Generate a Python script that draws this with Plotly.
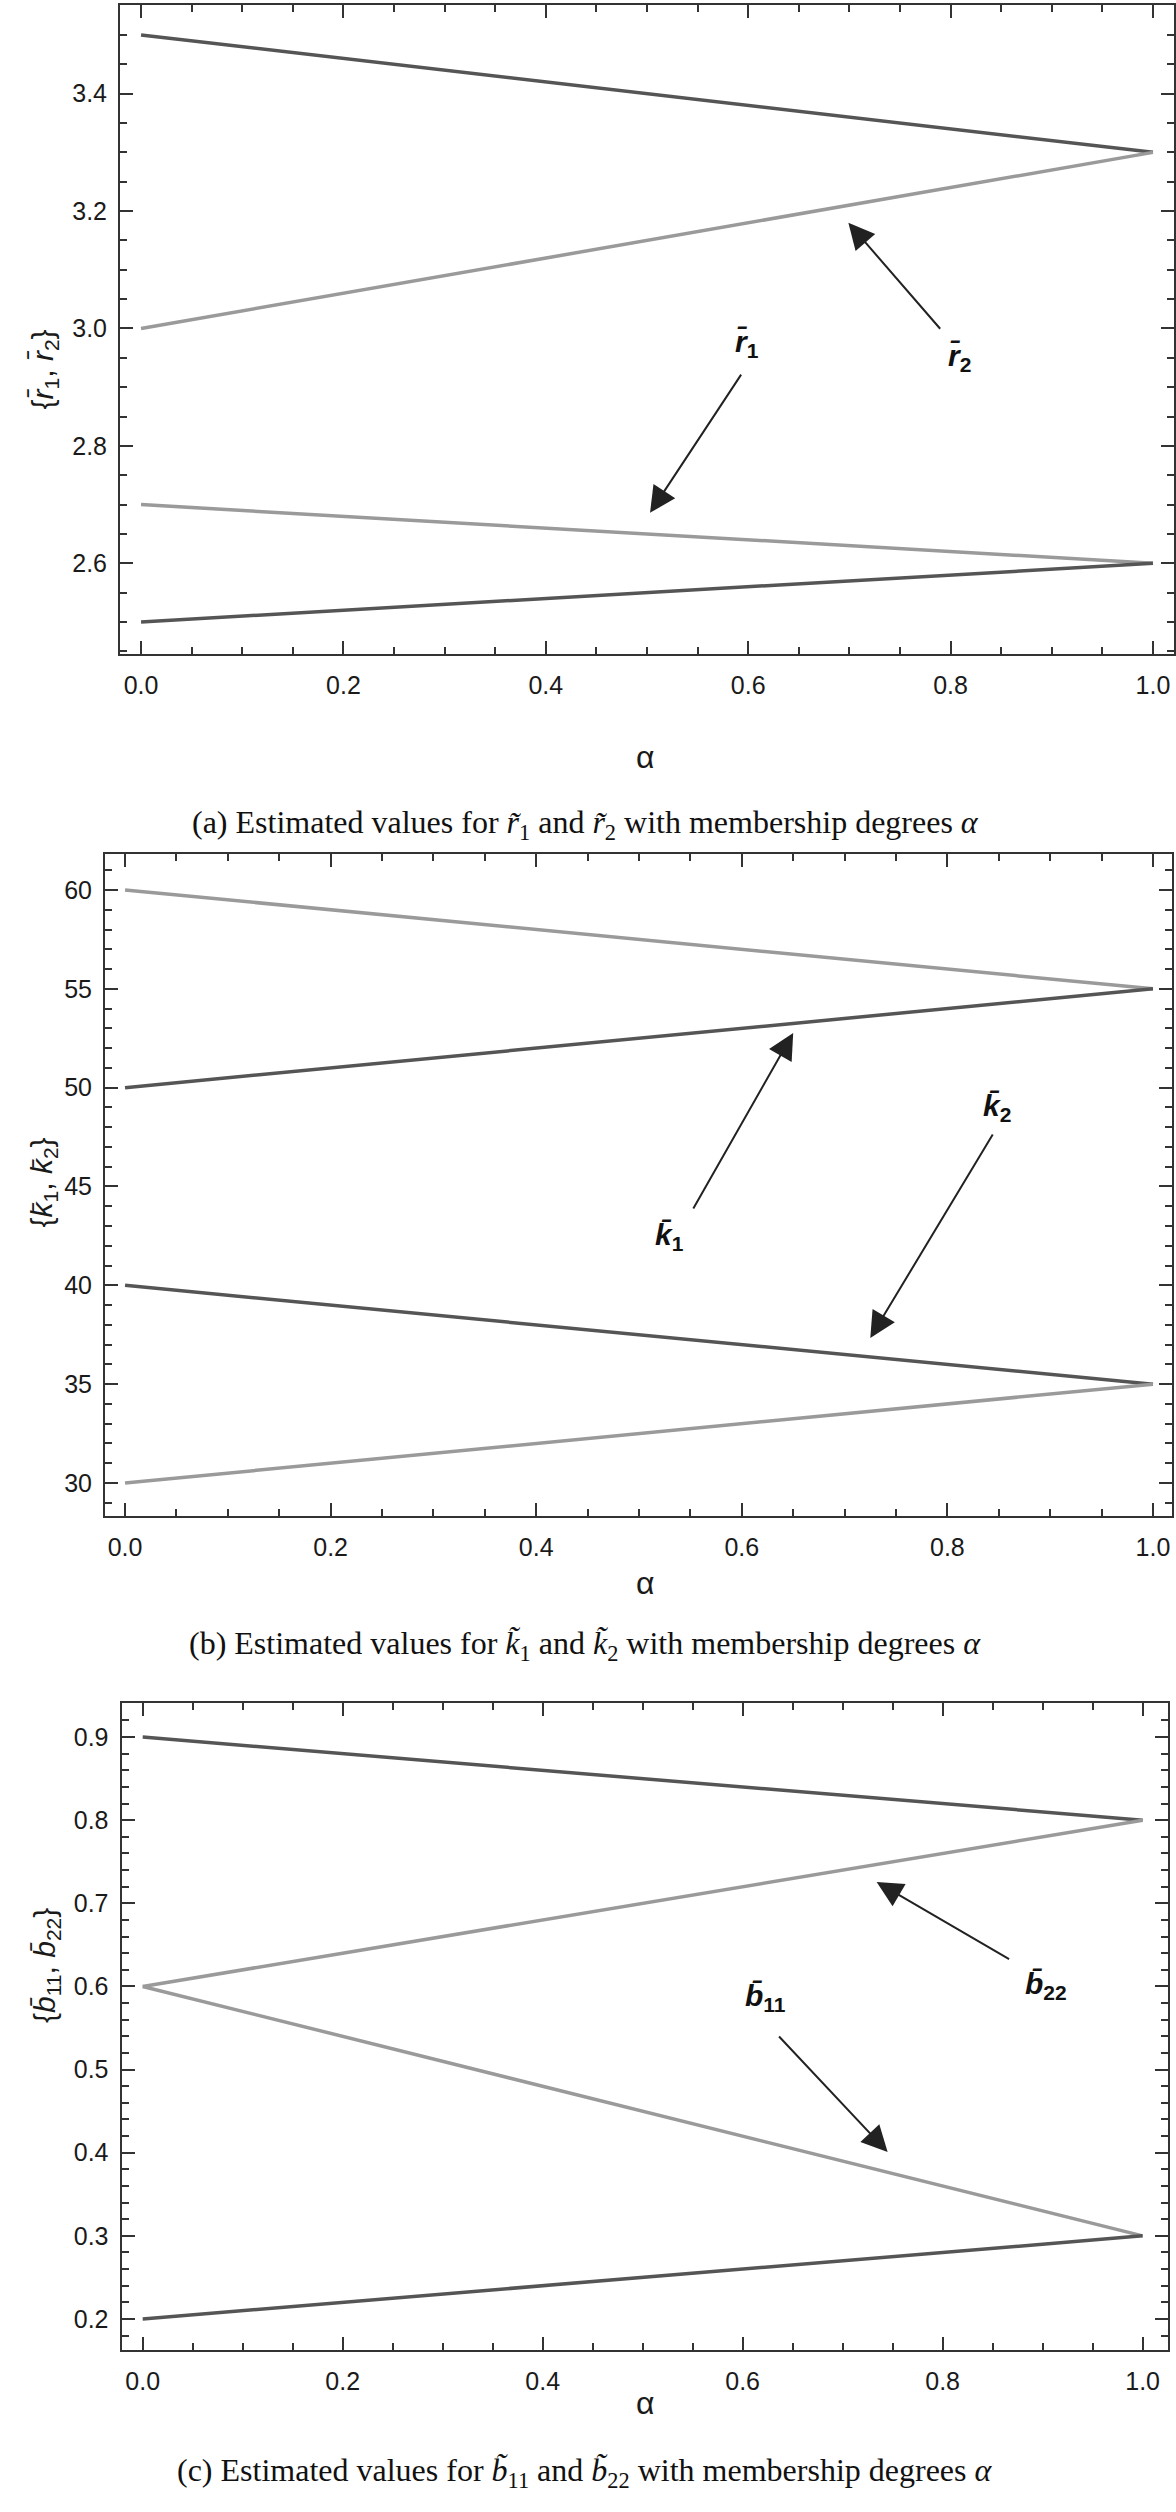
import plotly.graph_objects as go
from plotly.subplots import make_subplots

# membership degree
alpha = [0.0, 1.0]

# (a) r estimates
r2_upper = [3.5, 3.3]
r2_lower = [3.0, 3.3]
r1_upper = [2.7, 2.6]
r1_lower = [2.5, 2.6]

# (b) k estimates
k1_upper = [60, 55]
k1_lower = [50, 55]
k2_upper = [40, 35]
k2_lower = [30, 35]

# (c) b estimates
b22_upper = [0.9, 0.8]
b22_lower = [0.6, 0.8]
b11_upper = [0.6, 0.3]
b11_lower = [0.2, 0.3]

W, H = 1176, 2512
DARK = "#555555"
LIGHT = "#9a9a9a"
AXIS = "#333333"
SANS = "Liberation Sans, Arial, sans-serif"
SERIF = "Liberation Serif, Times New Roman, serif"


def px_x(p):
    return p / W


def px_y(p):
    return 1 - p / H


fig = make_subplots(rows=3, cols=1)

series = [
    (1, r2_upper, DARK), (1, r2_lower, LIGHT), (1, r1_upper, LIGHT), (1, r1_lower, DARK),
    (2, k1_upper, LIGHT), (2, k1_lower, DARK), (2, k2_upper, DARK), (2, k2_lower, LIGHT),
    (3, b22_upper, DARK), (3, b22_lower, LIGHT), (3, b11_upper, LIGHT), (3, b11_lower, DARK),
]
for row, vals, col in series:
    fig.add_trace(go.Scatter(x=alpha, y=vals, mode="lines",
                             line=dict(color=col, width=3.5), showlegend=False),
                  row=row, col=1)

# panel boxes in pixels: left, right, top, bottom
boxes = [(120, 1174, 5, 654), (105, 1172, 854, 1516), (121.5, 1168, 1703, 2350)]
xranges = [[-0.0208, 1.0208], [-0.0195, 1.0185], [-0.0212, 1.0254]]
yranges = [[2.4455, 3.551], [28.33, 61.82], [0.1627, 0.941]]
ydticks = [0.2, 5, 0.1]
yminor = [0.05, 1, 0.02]
yformats = [".1f", "d", ".1f"]

common = dict(showline=True, linecolor=AXIS, linewidth=2, mirror="ticks",
              ticks="inside", ticklen=13, tickwidth=2, tickcolor=AXIS,
              showgrid=False, zeroline=False,
              tickfont=dict(family=SANS, size=25, color="#1a1a1a"))

for i, (l, r, t, b) in enumerate(boxes):
    row = i + 1
    fig.update_xaxes(domain=[px_x(l), px_x(r)], range=xranges[i], tick0=0, dtick=0.2,
                     tickformat=".1f", ticklabelstandoff=8,
                     minor=dict(dtick=0.05, ticks="inside", ticklen=7, tickwidth=1.5,
                                tickcolor=AXIS, showgrid=False),
                     row=row, col=1, **common)
    fig.update_yaxes(domain=[px_y(b), px_y(t)], range=yranges[i], tick0=0, dtick=ydticks[i],
                     tickformat=yformats[i], ticklabelstandoff=6,
                     minor=dict(dtick=yminor[i], ticks="inside", ticklen=7, tickwidth=1.5,
                                tickcolor=AXIS, showgrid=False),
                     row=row, col=1, **common)

ann = []

# y axis titles
ytitles = [
    ("{<i>r̄</i><sub>1</sub>, <i>r̄</i><sub>2</sub>}", 24, 328),
    ("{<i>k̄</i><sub>1</sub>, <i>k̄</i><sub>2</sub>}", 22, 1183),
    ("{<i>b̄</i><sub>11</sub>, <i>b̄</i><sub>22</sub>}", 26, 2025),
]
for txt, x, y in ytitles:
    ann.append(dict(text=txt, x=px_x(x), y=px_y(y), xref="paper", yref="paper",
                    showarrow=False, textangle=-90,
                    font=dict(family=SANS, size=30, color="#1a1a1a")))

# x axis titles
for y in [737, 1583, 2423]:
    ann.append(dict(text="α", x=px_x(645), y=px_y(y), xref="paper", yref="paper",
                    showarrow=False, font=dict(family=SANS, size=32, color="#1a1a1a")))

# captions
captions = [
    ("(a) Estimated values for <i>r̃</i><sub>1</sub> and <i>r̃</i><sub>2</sub> with membership degrees <i>α</i>", 802),
    ("(b) Estimated values for <i>k̃</i><sub>1</sub> and <i>k̃</i><sub>2</sub> with membership degrees <i>α</i>", 1645),
    ("(c) Estimated values for <i>b̃</i><sub>11</sub> and <i>b̃</i><sub>22</sub> with membership degrees <i>α</i>", 2495),
]
for txt, y in captions:
    ann.append(dict(text=txt, x=px_x(585), y=px_y(y), xref="paper", yref="paper",
                    showarrow=False, font=dict(family=SERIF, size=32, color="#111111")))

# curve labels with arrows (head x, head y, tail x, tail y, label, label x, label y, panel)
arrows = [
    (0.699, 3.180, 0.791, 2.997, "<b><i>r̄</i></b><sub><b>2</b></sub>", 0.809, 2.950, 1),
    (0.503, 2.686, 0.594, 2.924, "<b><i>r̄</i></b><sub><b>1</b></sub>", 0.599, 2.975, 1),
    (0.650, 52.77, 0.552, 43.81, "<b><i>k̄</i></b><sub><b>1</b></sub>", 0.530, 42.45, 2),
    (0.725, 37.34, 0.845, 47.71, "<b><i>k̄</i></b><sub><b>2</b></sub>", 0.848, 49.02, 2),
    (0.734, 0.7256, 0.868, 0.6318, "<b><i>b̄</i></b><sub><b>22</b></sub>", 0.903, 0.6017, 3),
    (0.745, 0.4008, 0.635, 0.5416, "<b><i>b̄</i></b><sub><b>11</b></sub>", 0.623, 0.5873, 3),
]
for hx, hy, tx, ty, label, lx, ly, p in arrows:
    xr = "x" if p == 1 else f"x{p}"
    yr = "y" if p == 1 else f"y{p}"
    ann.append(dict(x=hx, y=hy, ax=tx, ay=ty, xref=xr, yref=yr, axref=xr, ayref=yr,
                    text="", showarrow=True, arrowhead=2, arrowsize=2.6, arrowwidth=2,
                    arrowcolor="#222222"))
    ann.append(dict(x=lx, y=ly, xref=xr, yref=yr, text=label, showarrow=False,
                    font=dict(family=SANS, size=30, color="#111111")))

fig.update_layout(width=W, height=H, margin=dict(l=0, r=0, t=0, b=0),
                  paper_bgcolor="white", plot_bgcolor="white",
                  annotations=ann, showlegend=False)

fig.write_html("out.html", config={"displayModeBar": False},
               post_script="document.body.style.margin='0';")
